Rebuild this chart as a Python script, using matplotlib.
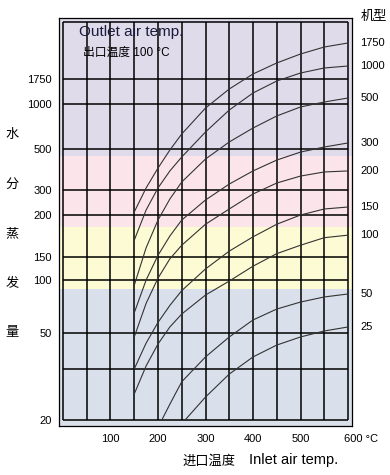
import matplotlib
matplotlib.use("Agg")
import matplotlib.pyplot as plt
import matplotlib.transforms as mtransforms
import numpy as np

# y axis of the chart is not linear: each labelled gridline sits at its own height
y_knots = [10, 20, 30, 50, 100, 150, 200, 300, 500, 1000, 1750, 2500, 3250]
y_knot_pos = [-51, 0, 51, 87, 140, 163, 205, 230, 271, 316, 341, 398, 455]

y_ticks = [20, 50, 100, 150, 200, 300, 500, 1000, 1750]
y_grid = [20, 30, 50, 100, 150, 200, 300, 500, 1000, 1750, 2500]
x_ticks = [100, 200, 300, 400, 500, 600]
x_labels = ["100", "200", "300", "400", "500", "600 °C"]
x_grid = np.arange(0, 601, 50)

# colour bands (evaporation ranges)
band_edges = [91.5, 186, 466]
band_colors = ["#d9dfeb", "#fdfbd4", "#fbe5ea", "#dfdbeb"]

# evaporation curves, one per model
models = ["1750", "1000", "500", "300", "200", "150", "100", "50", "25"]
x_std = [150, 175, 200, 225, 250, 300, 350, 400, 450, 500, 550, 600]
curve_x = [x_std] * 7 + [
    [208, 225, 250, 300, 350, 400, 450, 500, 550, 600],
    [257, 300, 350, 400, 450, 500, 550, 600],
]
curve_y = [
    [212, 310, 407, 495, 667, 955, 1450, 1816, 1961, 2079, 2171, 2224],
    [170, 220, 310, 393, 461, 689, 933, 1330, 1690, 1829, 1895, 1921],
    [95, 161, 194, 264, 339, 451, 578, 733, 867, 967, 1060, 1180],
    [69, 100, 152, 175, 194, 260, 329, 393, 446, 485, 522, 567],
    [47.8, 78, 104, 146, 164, 189, 224, 284, 334, 368, 388, 393],
    [30, 44.4, 60, 76, 90, 124, 157, 174, 189, 200, 224, 232],
    [25.1, 31.7, 43.9, 55.7, 67.9, 85.8, 99, 130, 154, 164, 173, 176],
    [20, 23.1, 27.5, 36.7, 47.8, 62.3, 72.6, 79.2, 84, 86.8],
    [20, 24.5, 29, 36.7, 43.3, 47.8, 51.9, 55.7],
]


def forward(v):
    return np.interp(v, y_knots, y_knot_pos)


def inverse(p):
    return np.interp(p, y_knot_pos, y_knots)


plt.rcParams["font.family"] = ["Liberation Sans", "Noto Sans CJK SC", "DejaVu Sans"]

fig = plt.figure(figsize=(3.9, 4.75), dpi=100)
ax = fig.add_axes([59 / 390, 49 / 475, 293 / 390, 408 / 475])
ax.set_yscale("function", functions=(forward, inverse))
ylo, yhi = inverse([-6, 402])
ax.set_xlim(-8.4, 608.4)
ax.set_ylim(ylo, yhi)

edges = [ylo] + band_edges + [yhi]
for lo, hi, c in zip(edges[:-1], edges[1:], band_colors):
    ax.axhspan(lo, hi, color=c, lw=0, zorder=0)

ax.vlines(x_grid, 20, 2500, color="black", lw=1.1, zorder=1)
ax.hlines(y_grid, 0, 600, color="black", lw=1.1, zorder=1)

for xs, ys, name in zip(curve_x, curve_y, models):
    ax.plot(xs, ys, color="#333333", lw=0.8, zorder=2)
    ax.annotate(name, (1, ys[-1]), xycoords=("axes fraction", "data"),
                xytext=(6, 0), textcoords="offset points",
                ha="left", va="center", fontsize=8, annotation_clip=False)

for s in ax.spines.values():
    s.set_linewidth(0.9)

ax.set_yticks(y_ticks, [str(v) for v in y_ticks])
ax.set_xticks(x_ticks, x_labels)
ax.minorticks_off()
ax.tick_params(length=0, labelsize=8, pad=5)
ax.tick_params(axis="x", pad=6)
last = ax.get_xticklabels()[-1]
last.set_transform(last.get_transform() +
                   mtransforms.ScaledTranslation(0.13, 0, fig.dpi_scale_trans))

ax.text(0.068, 0.965, "Outlet air temp.", transform=ax.transAxes,
        fontsize=11, va="center", ha="left", color="#1a1a3a")
ax.text(0.082, 0.914, "出口温度 100 °C", transform=ax.transAxes,
        fontsize=8.5, va="center", ha="left")

fig.text(374 / 390, 1 - 17 / 475, "机型", fontsize=9.5, ha="center", va="center")
for i, ch in enumerate("水分蒸发量"):
    fig.text(12 / 390, 1 - (135 + 49.5 * i) / 475, ch, fontsize=9.5,
             ha="center", va="center")
fig.text(209 / 390, 1 - 462 / 475, "进口温度", fontsize=9.5, ha="center", va="center")
fig.text(249 / 390, 1 - 460 / 475, "Inlet air temp.", fontsize=10.5,
         ha="left", va="center")

fig.savefig("out.png", dpi=100)
